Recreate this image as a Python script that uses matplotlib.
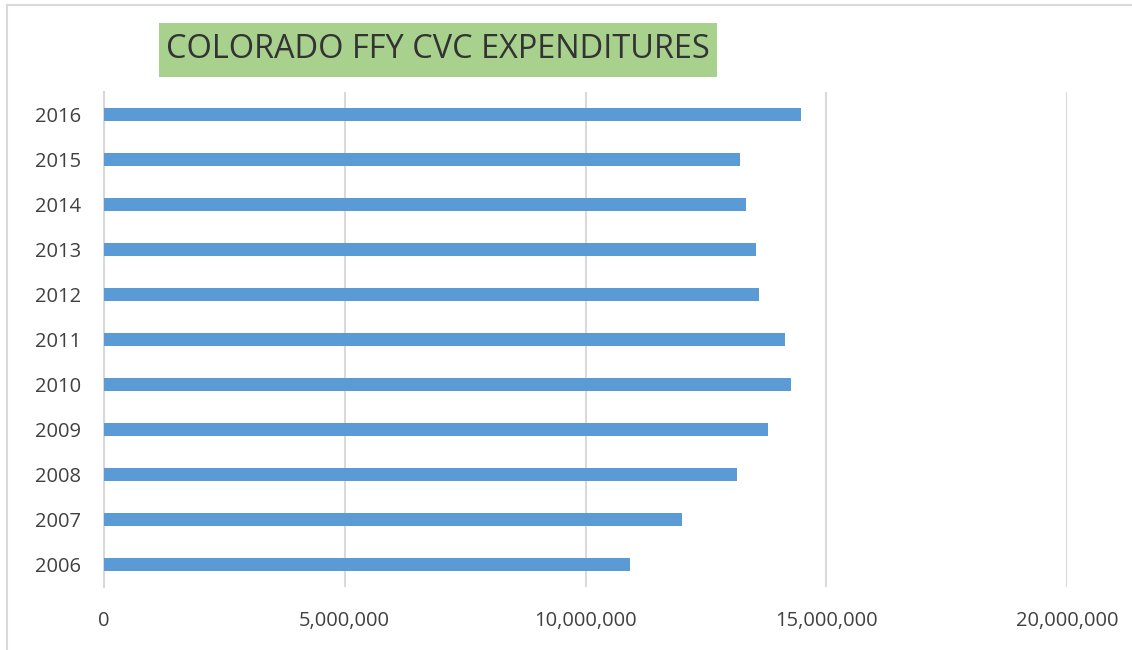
import matplotlib
matplotlib.use("Agg")
import matplotlib.pyplot as plt
from matplotlib.ticker import FuncFormatter
from matplotlib.lines import Line2D
from matplotlib.patches import Rectangle

years = ["2006", "2007", "2008", "2009", "2010", "2011", "2012", "2013", "2014", "2015", "2016"]
expenditures = [10920000, 12010000, 13150000, 13790000, 14260000, 14140000,
                13610000, 13550000, 13330000, 13210000, 14480000]
x_ticks = [0, 5000000, 10000000, 15000000, 20000000]
title = "COLORADO FFY CVC EXPENDITURES"

plt.rcParams['font.family'] = ['Open Sans', 'DejaVu Sans']
text_color = "#404040"

fig = plt.figure(figsize=(11.32, 6.5), dpi=100)
ax = fig.add_axes([104/1132, 63/650, (1067-104)/1132, (587-92)/650])

ypos = list(range(len(years)))
ax.barh(ypos, expenditures, height=0.31, color="#5B9BD5", zorder=3)
ax.set_yticks(ypos)
ax.set_yticklabels(years)
ax.set_ylim(-0.5, len(years) - 0.5)
ax.set_xlim(0, 20000000)
ax.set_xticks(x_ticks)
ax.xaxis.set_major_formatter(FuncFormatter(lambda v, p: f"{int(v):,}"))
ax.grid(axis="x", color="#D9D9D9", linewidth=1.5, zorder=0)
for s in ["top", "right", "bottom"]:
    ax.spines[s].set_visible(False)
ax.spines["left"].set_color("#D9D9D9")
ax.spines["left"].set_linewidth(1.5)
ax.tick_params(axis="both", length=0, labelsize=14.5, labelcolor=text_color)
ax.tick_params(axis="y", pad=16.5)
ax.tick_params(axis="x", pad=17)

fig.add_artist(Rectangle((159/1132, 1 - 77/650), (717-159)/1132, 54/650,
                         transform=fig.transFigure, facecolor="#A9D18E", edgecolor="none"))
fig.text(438/1132, 1 - 50/650, title, ha="center", va="center", fontsize=23.4,
         color="#333333")

fig.add_artist(Line2D([7/1132, 7/1132], [0, 1 - 5/650], color="#D9D9D9", linewidth=1.5, transform=fig.transFigure))
fig.add_artist(Line2D([7/1132, 1], [1 - 5/650, 1 - 5/650], color="#D9D9D9", linewidth=1.5, transform=fig.transFigure))

fig.savefig("out.png", dpi=100)
